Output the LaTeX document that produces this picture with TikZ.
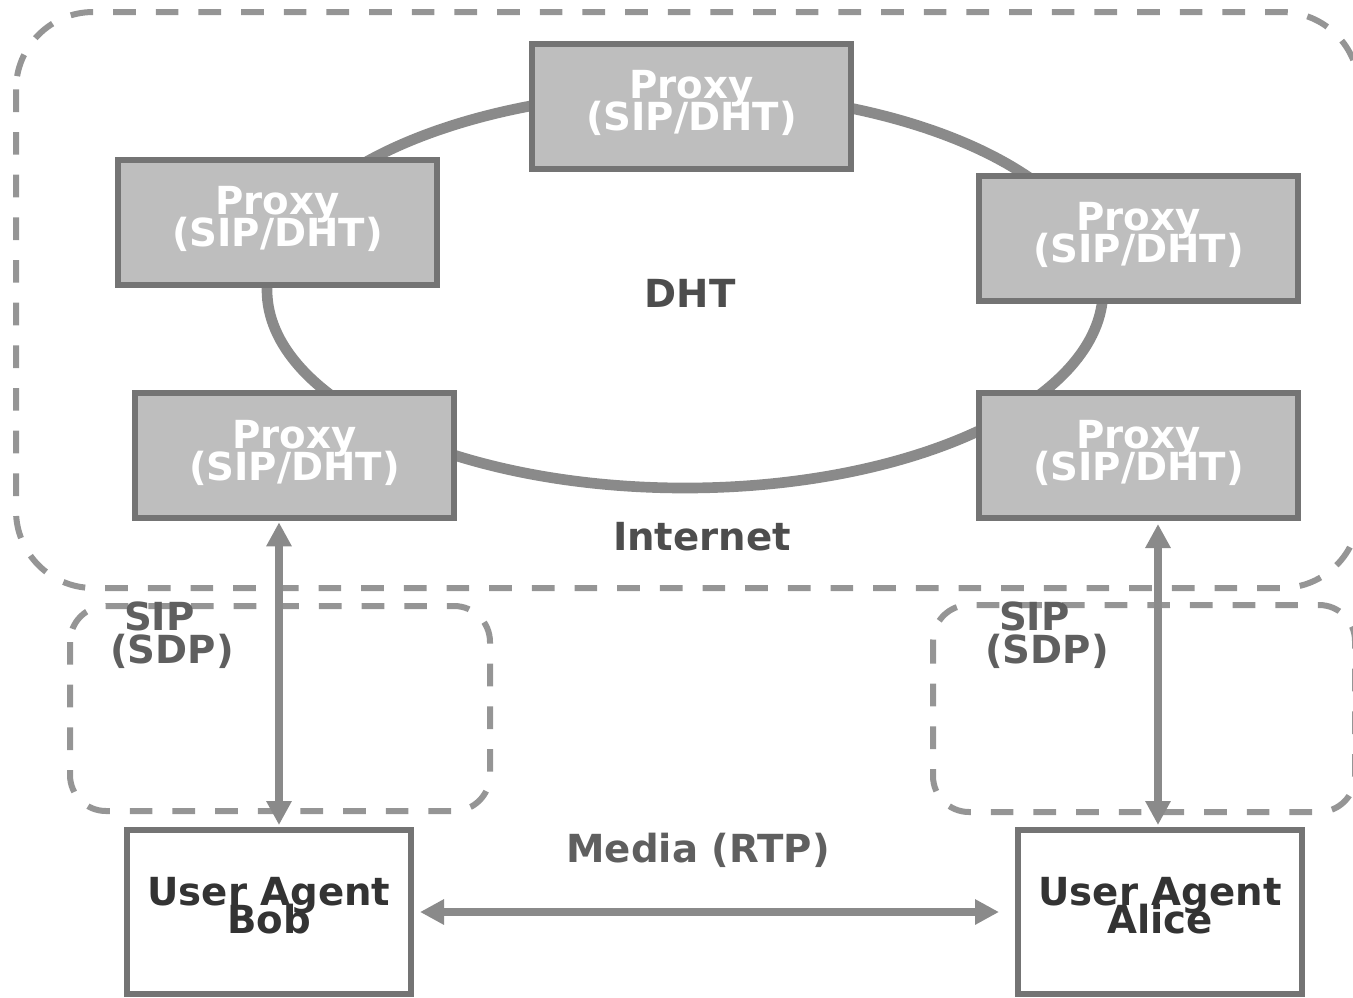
\documentclass[tikz,border=0pt]{standalone}
\usepackage{fontspec}
\setmainfont{DejaVu Sans}
\usetikzlibrary{arrows.meta}
\definecolor{proxyfill}{HTML}{BEBEBE}
\definecolor{boxline}{HTML}{747474}
\definecolor{ringc}{HTML}{8A8A8A}
\definecolor{dashc}{HTML}{959595}
\definecolor{txtdark}{HTML}{4D4D4D}
\definecolor{txtmid}{HTML}{5F5F5F}
\definecolor{txtua}{HTML}{333333}
\newcommand\tightls{\lineskiplimit -60pt\relax}
\begin{document}
\begin{tikzpicture}[x=0.75pt,y=-0.75pt,
  proxybox/.style={draw=boxline, fill=proxyfill, line width=4.5pt,
    minimum width=239.25pt, minimum height=93.75pt, inner sep=0pt,
    text=white, font=\bfseries\fontsize{29}{24}\selectfont\tightls,
    align=center, text depth=8pt},
  uabox/.style={draw=boxline, fill=white, line width=4.5pt,
    minimum width=213pt, minimum height=123pt, inner sep=0pt,
    text=txtua, font=\bfseries\fontsize{29}{21}\selectfont\tightls,
    align=center, text depth=10.5pt},
  dashbox/.style={draw=dashc, line width=4.5pt, dash pattern=on 17pt off 15pt},
  ringline/.style={draw=ringc, line width=8pt},
  sig/.style={draw=ringc, line width=6pt,
    {Triangle[length=18pt,width=18pt]}-{Triangle[length=18pt,width=18pt]}},
  lbl/.style={inner sep=0pt, font=\bfseries\fontsize{29}{24.75}\selectfont\tightls,
    align=center}
]
\useasboundingbox (0,0) rectangle (1353,997);

% grouping regions
\draw[dashbox, rounded corners=58pt] (16,12) rectangle (1359,588);
\draw[dashbox, rounded corners=27pt] (70,606) rectangle (490,811);
\draw[dashbox, rounded corners=27pt] (933,605) rectangle (1355,812);

% DHT ring
\draw[ringline] (685,290) ellipse [x radius=313.5pt, y radius=148.5pt];

% proxies
\node[proxybox] (ptop) at (691.5,106) {Proxy\\(SIP/DHT)};
\node[proxybox] (plt)  at (277.5,222) {Proxy\\(SIP/DHT)};
\node[proxybox] (prt)  at (1138.5,238) {Proxy\\(SIP/DHT)};
\node[proxybox] (pbl)  at (294.5,455.5) {Proxy\\(SIP/DHT)};
\node[proxybox] (pbr)  at (1138.5,455.5) {Proxy\\(SIP/DHT)};

% user agents
\node[uabox] (bob)   at (269,912) {User Agent\\Bob};
\node[uabox] (alice) at (1160,912) {User Agent\\Alice};

% labels
\node[lbl, text=txtdark] (dht) at (690,293) {DHT};
\node[lbl, text=txtdark] (inet) at (702,537) {Internet};
\node[lbl, text=txtmid] (media) at (698,850) {Media (RTP)};
\node[lbl, text=txtmid] (sipl) at (172,635) {SIP\kern19pt\\(SDP)};
\node[lbl, text=txtmid] (sipr) at (1047,635) {SIP\kern19pt\\(SDP)};

% connectors
\coordinate (xl) at (279,0);
\coordinate (xr) at (1158,0);
\draw[sig, shorten <=1pt, shorten >=1.5pt] (pbl.south -| xl) -- (bob.north -| xl);
\draw[sig, shorten <=2.25pt, shorten >=1.5pt] (pbr.south -| xr) -- (alice.north -| xr);
\draw[sig, shorten <=4.5pt, shorten >=12pt] (bob.east) -- (alice.west);
\end{tikzpicture}
\end{document}
